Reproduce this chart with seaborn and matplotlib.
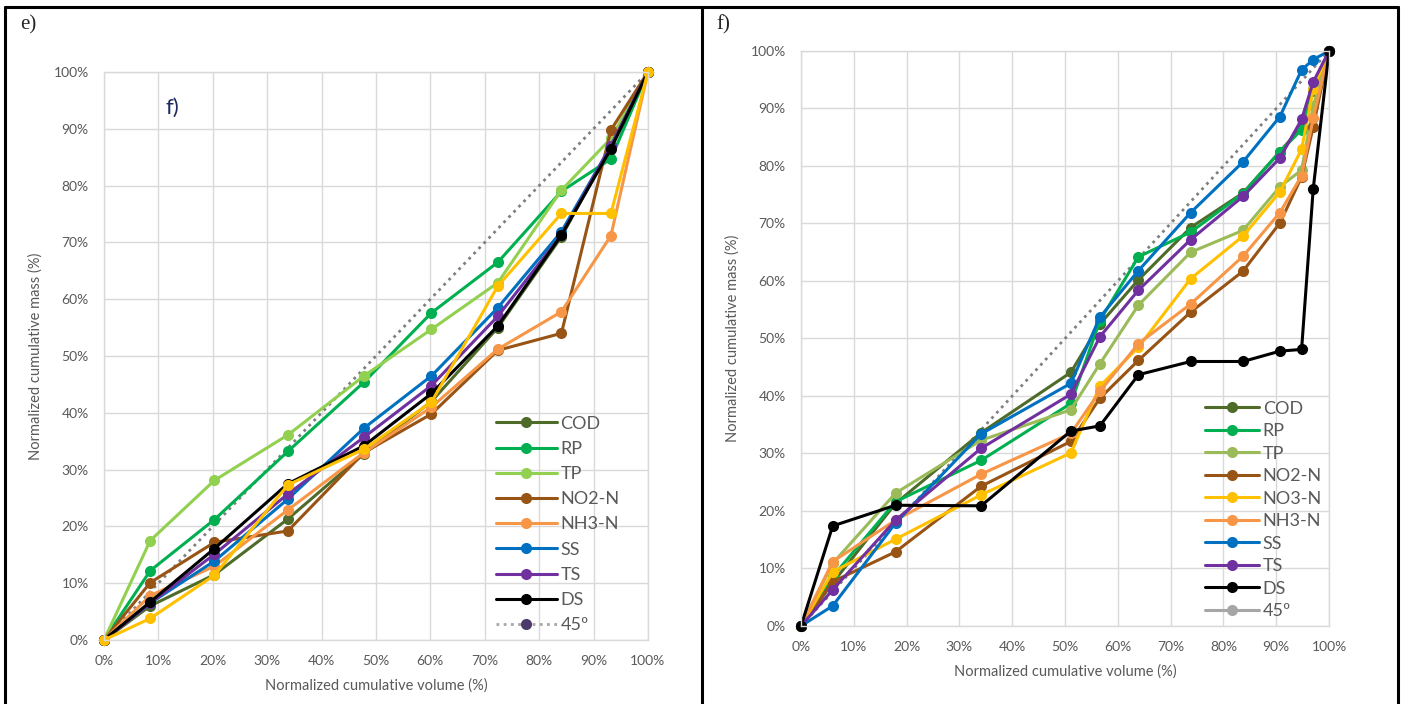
import numpy as np
import pandas as pd
import matplotlib
matplotlib.use("Agg")
import matplotlib.pyplot as plt
from matplotlib.lines import Line2D
import seaborn as sns

# ---- data ----
ticks = [0, 10, 20, 30, 40, 50, 60, 70, 80, 90, 100]
tick_labels = [f"{t}%" for t in ticks]

# panel e)
vol_e = [0, 8.5, 20.3, 33.8, 47.8, 60.2, 72.4, 84.1, 93.2, 100]
cod_e = [0, 6.0, 11.5, 21.3, 32.8, 42.0, 55.0, 71.0, 87.0, 100]
rp_e = [0, 12.2, 21.2, 33.2, 45.4, 57.6, 66.5, 79.0, 84.7, 100]
tp_e = [0, 17.5, 28.1, 36.1, 46.5, 54.7, 62.9, 79.2, 88.3, 100]
no2_e = [0, 10.1, 17.2, 19.2, 33.0, 39.8, 51.0, 54.0, 89.8, 100]
nh3_e = [0, 7.8, 13.0, 22.9, 33.0, 41.0, 51.2, 57.8, 71.2, 100]
no3_e = [0, 3.8, 11.4, 27.3, 33.6, 41.9, 62.3, 75.1, 75.1, 100]
ss_e = [0, 6.5, 13.9, 24.8, 37.3, 46.5, 58.5, 71.9, 87.0, 100]
ts_e = [0, 6.5, 15.1, 25.7, 35.7, 44.8, 57.0, 71.3, 87.0, 100]
ds_e = [0, 6.7, 16.1, 27.5, 34.2, 43.4, 55.3, 71.3, 86.5, 100]

# panel f)
vol_f = [0, 6.0, 17.9, 34.1, 51.1, 56.6, 63.9, 73.8, 83.7, 90.7, 94.8, 97.0, 100]
cod_f = [0, 7.5, 21.3, 33.6, 44.1, 52.5, 60.2, 69.3, 75.3, 82.5, 86.8, 93.0, 100]
rp_f = [0, 8.6, 21.6, 28.8, 38.7, 53.1, 64.2, 68.5, 75.2, 82.5, 86.3, 93.3, 100]
tp_f = [0, 10.9, 23.1, 32.3, 37.6, 45.6, 55.8, 65.0, 68.8, 76.4, 79.3, 90.4, 100]
no2_f = [0, 7.7, 12.9, 24.3, 32.1, 39.6, 46.2, 54.6, 61.7, 70.1, 78.1, 86.8, 100]
no3_f = [0, 9.4, 15.1, 22.8, 30.1, 41.7, 48.5, 60.4, 67.8, 75.5, 82.9, 93.3, 100]
nh3_f = [0, 11.2, 18.4, 26.4, 33.5, 40.8, 49.1, 56.0, 64.3, 71.9, 78.3, 88.3, 100]
ss_f = [0, 3.5, 17.9, 33.4, 42.2, 53.7, 61.8, 71.9, 80.7, 88.6, 96.7, 98.5, 100]
ts_f = [0, 6.3, 18.4, 30.9, 40.3, 50.3, 58.4, 67.2, 74.7, 81.4, 88.1, 94.6, 100]
ds_f = [0, 17.4, 21.0, 20.9, 33.9, 34.8, 43.7, 46.0, 46.0, 47.8, 48.1, 76.0, 100]

diag = [0, 100]

# ---- style ----
sns.set_style("white")
plt.rcParams["font.family"] = ["Lato", "DejaVu Sans"]
txt = "#595959"
grid_c = "#D9D9D9"
lw = 2.2
ms = 8

c_cod = "#4F6B2A"
c_rp = "#00B050"
c_no2 = "#985415"
c_nh3 = "#F79646"
c_no3 = "#FFC000"
c_ss = "#0070C0"
c_ts = "#7030A0"
c_ds = "#000000"

fig = plt.figure(figsize=(14.07, 7.04), dpi=100)
ax1 = fig.add_axes([0.0739, 0.0909, 0.3866, 0.8068])
ax2 = fig.add_axes([0.5693, 0.1108, 0.3753, 0.8168])


def series(ax, x, y, color, label):
    sns.lineplot(x=x, y=y, ax=ax, color=color, label=label, marker="o",
                 markersize=ms, markeredgewidth=0, linewidth=lw,
                 clip_on=False, sort=False, legend=False)


def setup(ax):
    ax.set_xlim(0, 100)
    ax.set_ylim(0, 100)
    ax.set_xticks(ticks)
    ax.set_xticklabels(tick_labels)
    ax.set_yticks(ticks)
    ax.set_yticklabels(tick_labels)
    ax.grid(True, color=grid_c, lw=1)
    for s in ax.spines.values():
        s.set_color(grid_c)
        s.set_linewidth(1)
    ax.tick_params(length=0, labelsize=10, labelcolor=txt, pad=11)
    ax.set_xlabel("Normalized cumulative volume (%)", fontsize=10.5, color=txt, labelpad=8)
    ax.set_ylabel("Normalized cumulative mass (%)", fontsize=10.5, color=txt, labelpad=8)


# panel e)
sns.lineplot(x=diag, y=diag, ax=ax1, color="#7F7F7F", linestyle=(0, (1, 1.6)),
             linewidth=2, label="45º", legend=False)
series(ax1, vol_e, cod_e, c_cod, "COD")
series(ax1, vol_e, rp_e, c_rp, "RP")
series(ax1, vol_e, tp_e, "#92D050", "TP")
series(ax1, vol_e, no2_e, c_no2, "NO2-N")
series(ax1, vol_e, nh3_e, c_nh3, "NH3-N")
series(ax1, vol_e, ss_e, c_ss, "SS")
series(ax1, vol_e, ts_e, c_ts, "TS")
series(ax1, vol_e, ds_e, c_ds, "DS")
series(ax1, vol_e, no3_e, c_no3, "_NO3-N")
setup(ax1)
ax1.text(11.4, 93.7, "f)", fontsize=16, color="#1F2A5C", va="center", ha="left")

h, l = ax1.get_legend_handles_labels()
order = ["COD", "RP", "TP", "NO2-N", "NH3-N", "SS", "TS", "DS"]
hl = dict(zip(l, h))
hand = [hl[k] for k in order]
hand.append(Line2D([], [], color="#A6A6A6", linestyle=(0, (1, 1.6)), lw=2,
                   marker="o", markersize=ms, markerfacecolor="#4B3A6B",
                   markeredgewidth=0))
ax1.legend(hand, order + ["45º"], loc="upper left", bbox_to_anchor=(0.72, 0.395),
           frameon=False, fontsize=13, labelcolor=txt, handlelength=3.4,
           handletextpad=0.2, labelspacing=0.51, borderpad=0, borderaxespad=0)

# panel f)
sns.lineplot(x=diag, y=diag, ax=ax2, color="#7F7F7F", linestyle=(0, (1, 1.6)),
             linewidth=2, legend=False)
series(ax2, vol_f, cod_f, c_cod, "COD")
series(ax2, vol_f, rp_f, c_rp, "RP")
series(ax2, vol_f, tp_f, "#9BBB59", "TP")
series(ax2, vol_f, no2_f, c_no2, "NO2-N")
series(ax2, vol_f, no3_f, c_no3, "NO3-N")
series(ax2, vol_f, nh3_f, c_nh3, "NH3-N")
series(ax2, vol_f, ss_f, c_ss, "SS")
series(ax2, vol_f, ts_f, c_ts, "TS")
series(ax2, vol_f, ds_f, c_ds, "DS")
setup(ax2)

h, l = ax2.get_legend_handles_labels()
h.append(Line2D([], [], color="#A6A6A6", lw=lw, marker="o", markersize=ms,
                markerfacecolor="#A6A6A6", markeredgewidth=0))
l.append("45º")
ax2.legend(h, l, loc="upper left", bbox_to_anchor=(0.765, 0.392),
           frameon=False, fontsize=13, labelcolor=txt, handlelength=3.0,
           handletextpad=0.2, labelspacing=0.36, borderpad=0, borderaxespad=0)

# table frame and panel labels
for xs, ys in [([0.0036, 0.9936], [0.990, 0.990]),
               ([0.0036, 0.0036], [0.0, 0.990]),
               ([0.9936, 0.9936], [0.0, 0.990]),
               ([0.499, 0.499], [0.0, 0.990])]:
    fig.add_artist(Line2D(xs, ys, transform=fig.transFigure, color="black", lw=2.2))
fig.text(0.0142, 0.965, "e)", fontsize=15, family="Liberation Serif", va="center")
fig.text(0.509, 0.965, "f)", fontsize=15, family="Liberation Serif", va="center")

fig.savefig("out.png", dpi=100)
